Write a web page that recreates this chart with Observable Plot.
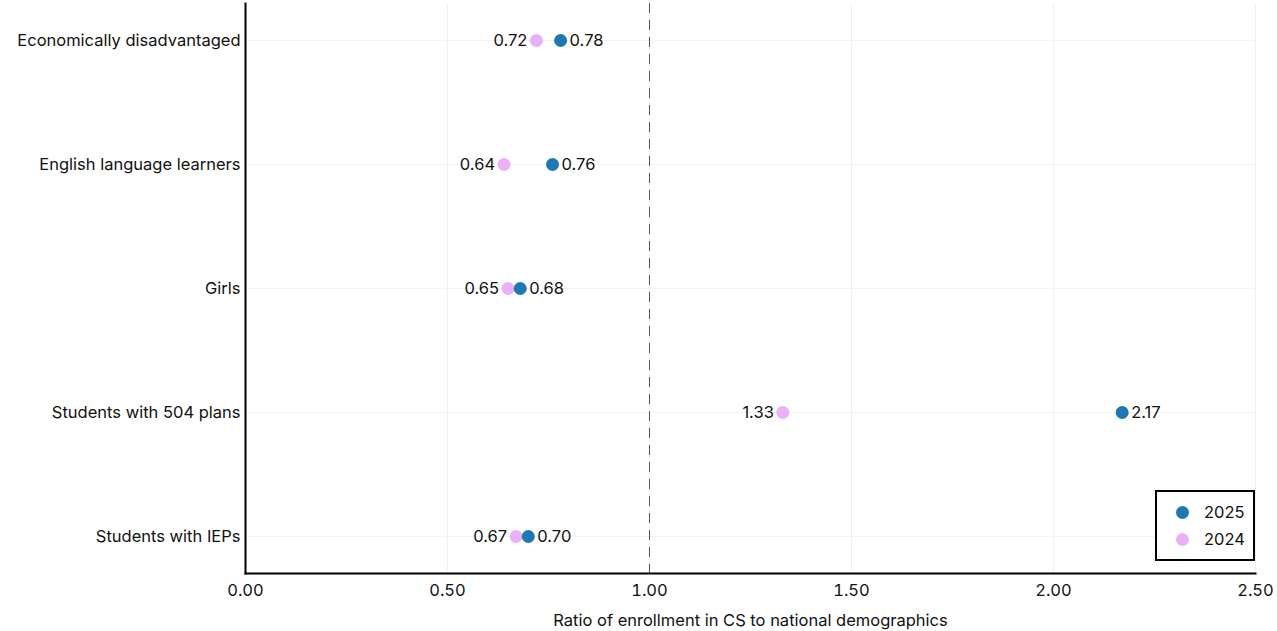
<!DOCTYPE html>
<html>
<head>
<meta charset="utf-8">
<script src="https://cdn.jsdelivr.net/npm/d3@7"></script>
<script src="https://cdn.jsdelivr.net/npm/@observablehq/plot@0.6"></script>
<style>
  html, body { margin: 0; padding: 0; background: #fff; }
  #wrap { position: relative; width: 1277px; height: 631px; font-family: Inter, "DejaVu Sans", sans-serif; }
  #legend { position: absolute; left: 1155px; top: 490px; width: 96px; height: 67px; border: 2px solid #000; background: #fff; font-size: 16.5px; color: #111; }
  .item { position: absolute; left: 19px; display: flex; align-items: center; }
  .sw { width: 13px; height: 13px; border-radius: 50%; margin-right: 15px; }
</style>
</head>
<body>
<div id="wrap"></div>
<script>
const categories = ["Economically disadvantaged", "English language learners", "Girls", "Students with 504 plans", "Students with IEPs"];
const values2025 = [0.78, 0.76, 0.68, 2.17, 0.70];
const values2024 = [0.72, 0.64, 0.65, 1.33, 0.67];
const xTicks = [0, 0.5, 1, 1.5, 2, 2.5];
const colors = {"2025": "#1f77b4", "2024": "#ebb0f8"};

const rows = [];
categories.forEach((c, i) => {
  const a = values2025[i], b = values2024[i];
  rows.push({cat: c, year: "2024", v: b, side: b <= a ? "left" : "right"});
  rows.push({cat: c, year: "2025", v: a, side: a > b ? "right" : "left"});
});
const pink = rows.filter(d => d.year === "2024");
const blue = rows.filter(d => d.year === "2025");
const FS = 16.5;

const chart = Plot.plot({
  width: 1277,
  height: 631,
  marginLeft: 245,
  marginRight: 22,
  marginTop: 3,
  marginBottom: 58,
  style: {fontFamily: "Inter, 'DejaVu Sans', sans-serif", fontSize: FS + "px", color: "#111", background: "#fff"},
  x: {domain: [0, 2.5]},
  y: {domain: categories, padding: 0.29},
  marks: [
    Plot.gridX(xTicks, {stroke: "#f0f0f0", strokeOpacity: 1}),
    Plot.gridY(categories, {stroke: "#f2f2f2", strokeOpacity: 1}),
    Plot.ruleX([1], {stroke: "#555", strokeDasharray: "10,7", strokeWidth: 1}),
    Plot.axisX(xTicks, {tickSize: 0, tickPadding: 11, tickFormat: d3.format(".2f"), fontSize: FS, label: "Ratio of enrollment in CS to national demographics", labelAnchor: "center", labelOffset: 52, labelArrow: "none"}),
    Plot.axisY({tickSize: 0, tickPadding: 5, fontSize: FS, label: null}),
    Plot.frame({anchor: "left", stroke: "#000", strokeWidth: 2}),
    Plot.frame({anchor: "bottom", stroke: "#000", strokeWidth: 2}),
    Plot.dot(pink, {x: "v", y: "cat", r: 6.5, fill: colors["2024"]}),
    Plot.dot(blue, {x: "v", y: "cat", r: 6.5, fill: colors["2025"]}),
    Plot.text(rows.filter(d => d.side === "left"), {x: "v", y: "cat", text: d => d3.format(".2f")(d.v), dx: -9, textAnchor: "end", fontSize: FS, fill: "#111"}),
    Plot.text(rows.filter(d => d.side === "right"), {x: "v", y: "cat", text: d => d3.format(".2f")(d.v), dx: 9, textAnchor: "start", fontSize: FS, fill: "#111"})
  ]
});
const wrap = document.getElementById("wrap");
wrap.appendChild(chart);

const legend = document.createElement("div");
legend.id = "legend";
[["2025", 10], ["2024", 37]].forEach(([y, top]) => {
  const it = document.createElement("div");
  it.className = "item";
  it.style.top = top + "px";
  const sw = document.createElement("span");
  sw.className = "sw";
  sw.style.background = colors[y];
  const t = document.createElement("span");
  t.textContent = y;
  it.appendChild(sw); it.appendChild(t);
  legend.appendChild(it);
});
wrap.appendChild(legend);
</script>
</body>
</html>
